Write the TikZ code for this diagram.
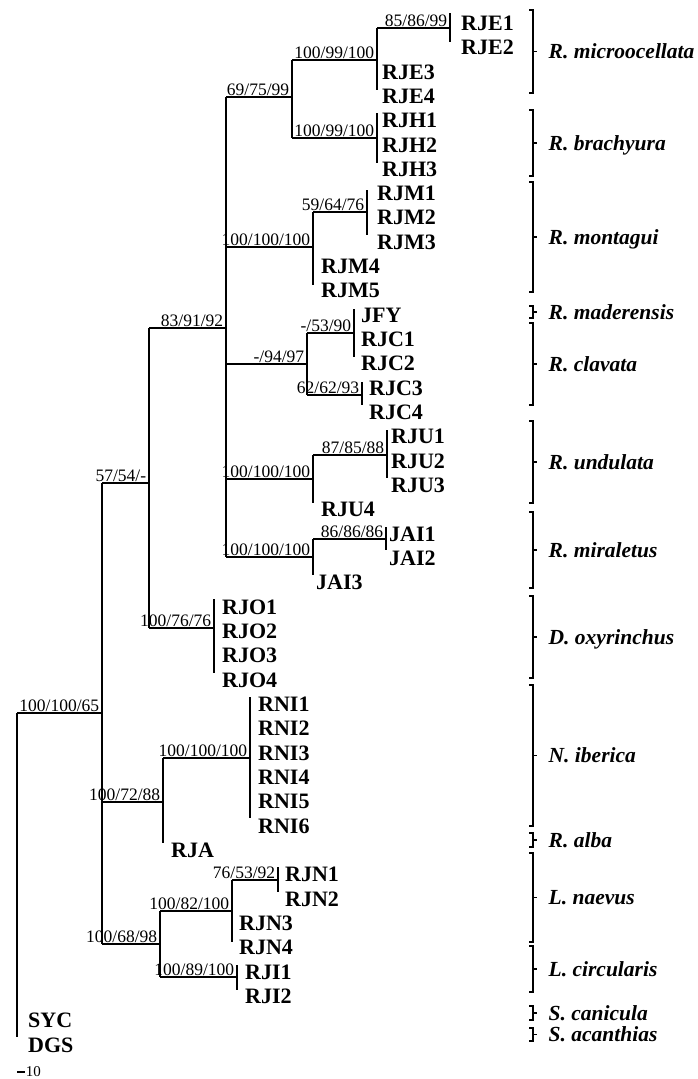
\documentclass[tikz,border=0pt]{standalone}
\usepackage{fontspec}
\setmainfont{Liberation Serif}
\tikzset{
taxon/.style={
  anchor=west,
  inner sep=0pt,
  text height=14.6pt,
  text depth=0pt,
  font=\fontsize{22}{22}\selectfont\bfseries
  },
support/.style={
  anchor=base east,
  inner sep=0pt,
  xshift=-2pt,
  yshift=2pt,
  font=\fontsize{17.5}{17.5}\selectfont
  },
species/.style={
  anchor=west,
  inner sep=0pt,
  text height=14.2pt,
  text depth=0pt,
  xshift=11pt,
  font=\fontsize{21.5}{21.5}\selectfont\bfseries\itshape
  },
branch/.style={line width=1.7pt},
bracket/.style={line width=1.4pt}
}

\begin{document}
\begin{tikzpicture}[x=1pt,y=-1pt]
\useasboundingbox (0,0) rectangle (697,1079);

\coordinate (root) at (17,713);
\coordinate (n65) at (102,713);
\coordinate (n57) at (149,483);
\coordinate (n83) at (226,328);
\coordinate (n69) at (292,97);
\coordinate (nRJE) at (377,60);
\coordinate (nRJE12) at (450,28);
\coordinate (nRJH) at (377,138);
\coordinate (nRJM) at (313,247);
\coordinate (nRJM13) at (367,212);
\coordinate (nCla) at (307,364);
\coordinate (nRJC12) at (354,333);
\coordinate (nRJC34) at (362,395);
\coordinate (nRJU) at (313,479);
\coordinate (nRJU13) at (387,455);
\coordinate (nJAI) at (313,557);
\coordinate (nJAI12) at (386,539);
\coordinate (nRJO) at (214,628);
\coordinate (nNR) at (163,802);
\coordinate (nRNI) at (250,758);
\coordinate (nLeu) at (160,944);
\coordinate (nRJN) at (232,911);
\coordinate (nRJN12) at (278,880);
\coordinate (nRJI) at (237,977);

\draw[branch] (root) -- ([yshift=-324pt]root);
\draw[branch] ([yshift=230pt]n65) -- ([yshift=-231pt]n65);
\draw[branch] ([yshift=155pt]n57) -- ([yshift=-145pt]n57);
\draw[branch] ([yshift=231pt]n83) -- ([yshift=-229pt]n83);
\draw[branch] ([yshift=37pt]n69) -- ([yshift=-41pt]n69);
\draw[branch] ([yshift=32pt]nRJE) -- ([yshift=-30pt]nRJE);
\draw[branch] ([yshift=15pt]nRJE12) -- ([yshift=-14pt]nRJE12);
\draw[branch] ([yshift=25pt]nRJH) -- ([yshift=-25pt]nRJH);
\draw[branch] ([yshift=35pt]nRJM) -- ([yshift=-38pt]nRJM);
\draw[branch] ([yshift=22pt]nRJM13) -- ([yshift=-23pt]nRJM13);
\draw[branch] ([yshift=31pt]nCla) -- ([yshift=-31pt]nCla);
\draw[branch] ([yshift=24pt]nRJC12) -- ([yshift=-24pt]nRJC12);
\draw[branch] ([yshift=13pt]nRJC34) -- ([yshift=-10pt]nRJC34);
\draw[branch] ([yshift=24pt]nRJU) -- ([yshift=-24pt]nRJU);
\draw[branch] ([yshift=25pt]nRJU13) -- ([yshift=-23pt]nRJU13);
\draw[branch] ([yshift=18pt]nJAI) -- ([yshift=-18pt]nJAI);
\draw[branch] ([yshift=12pt]nJAI12) -- ([yshift=-11pt]nJAI12);
\draw[branch] ([yshift=29pt]nRJO) -- ([yshift=-45pt]nRJO);
\draw[branch] ([yshift=44pt]nNR) -- ([yshift=-41pt]nNR);
\draw[branch] ([yshift=61pt]nRNI) -- ([yshift=-60pt]nRNI);
\draw[branch] ([yshift=33pt]nLeu) -- ([yshift=-33pt]nLeu);
\draw[branch] ([yshift=31pt]nRJN) -- ([yshift=-31pt]nRJN);
\draw[branch] ([yshift=13pt]nRJN12) -- ([yshift=-12pt]nRJN12);
\draw[branch] ([yshift=12pt]nRJI) -- ([yshift=-13pt]nRJI);

\draw[branch] (root |- n65) -- (n65) node[support]{100/100/65};
\draw[branch] (n65 |- n57) -- (n57) node[support]{57/54/-};
\draw[branch] (n65 |- nNR) -- (nNR) node[support]{100/72/88};
\draw[branch] (n65 |- nLeu) -- (nLeu) node[support]{100/68/98};
\draw[branch] (n57 |- n83) -- (n83) node[support]{83/91/92};
\draw[branch] (n57 |- nRJO) -- (nRJO) node[support]{100/76/76};
\draw[branch] (n83 |- n69) -- (n69) node[support]{69/75/99};
\draw[branch] (n83 |- nRJM) -- (nRJM) node[support]{100/100/100};
\draw[branch] (n83 |- nCla) -- (nCla) node[support]{-/94/97};
\draw[branch] (n83 |- nRJU) -- (nRJU) node[support]{100/100/100};
\draw[branch] (n83 |- nJAI) -- (nJAI) node[support]{100/100/100};
\draw[branch] (n69 |- nRJE) -- (nRJE) node[support]{100/99/100};
\draw[branch] (n69 |- nRJH) -- (nRJH) node[support]{100/99/100};
\draw[branch] (nRJE |- nRJE12) -- (nRJE12) node[support]{85/86/99};
\draw[branch] (nRJM |- nRJM13) -- (nRJM13) node[support]{59/64/76};
\draw[branch] (nCla |- nRJC12) -- (nRJC12) node[support]{-/53/90};
\draw[branch] (nCla |- nRJC34) -- (nRJC34) node[support]{62/62/93};
\draw[branch] (nRJU |- nRJU13) -- (nRJU13) node[support]{87/85/88};
\draw[branch] (nJAI |- nJAI12) -- (nJAI12) node[support]{86/86/86};
\draw[branch] (nNR |- nRNI) -- (nRNI) node[support]{100/100/100};
\draw[branch] (nLeu |- nRJN) -- (nRJN) node[support]{100/82/100};
\draw[branch] (nLeu |- nRJI) -- (nRJI) node[support]{100/89/100};
\draw[branch] (nRJN |- nRJN12) -- (nRJN12) node[support]{76/53/92};

\node[taxon] (RJE1) at (461,23.0) {RJE1};
\node[taxon] (RJE2) at (461,47.3) {RJE2};
\node[taxon] (RJE3) at (382,71.7) {RJE3};
\node[taxon] (RJE4) at (382,96.0) {RJE4};
\node[taxon] (RJH1) at (382,120.3) {RJH1};
\node[taxon] (RJH2) at (382,144.7) {RJH2};
\node[taxon] (RJH3) at (382,169.0) {RJH3};
\node[taxon] (RJM1) at (377,193.3) {RJM1};
\node[taxon] (RJM2) at (377,217.6) {RJM2};
\node[taxon] (RJM3) at (377,242.0) {RJM3};
\node[taxon] (RJM4) at (321,266.3) {RJM4};
\node[taxon] (RJM5) at (321,290.6) {RJM5};
\node[taxon] (JFY) at (361,315.0) {JFY};
\node[taxon] (RJC1) at (361,339.3) {RJC1};
\node[taxon] (RJC2) at (361,363.6) {RJC2};
\node[taxon] (RJC3) at (369,388.0) {RJC3};
\node[taxon] (RJC4) at (369,412.3) {RJC4};
\node[taxon] (RJU1) at (391,436.6) {RJU1};
\node[taxon] (RJU2) at (391,460.9) {RJU2};
\node[taxon] (RJU3) at (391,485.3) {RJU3};
\node[taxon] (RJU4) at (321,509.6) {RJU4};
\node[taxon] (JAI1) at (389,533.9) {JAI1};
\node[taxon] (JAI2) at (389,558.3) {JAI2};
\node[taxon] (JAI3) at (316,582.6) {JAI3};
\node[taxon] (RJO1) at (222,606.9) {RJO1};
\node[taxon] (RJO2) at (222,631.3) {RJO2};
\node[taxon] (RJO3) at (222,655.6) {RJO3};
\node[taxon] (RJO4) at (222,679.9) {RJO4};
\node[taxon] (RNI1) at (258,704.2) {RNI1};
\node[taxon] (RNI2) at (258,728.6) {RNI2};
\node[taxon] (RNI3) at (258,752.9) {RNI3};
\node[taxon] (RNI4) at (258,777.2) {RNI4};
\node[taxon] (RNI5) at (258,801.6) {RNI5};
\node[taxon] (RNI6) at (258,825.9) {RNI6};
\node[taxon] (RJA) at (171,850.2) {RJA};
\node[taxon] (RJN1) at (285,874.6) {RJN1};
\node[taxon] (RJN2) at (285,898.9) {RJN2};
\node[taxon] (RJN3) at (239,923.2) {RJN3};
\node[taxon] (RJN4) at (239,947.5) {RJN4};
\node[taxon] (RJI1) at (245,971.9) {RJI1};
\node[taxon] (RJI2) at (245,996.2) {RJI2};
\node[taxon] (SYC) at (28,1020.5) {SYC};
\node[taxon] (DGS) at (28,1044.9) {DGS};

\draw[bracket] (529,10) -- (533,10) -- (533,93) -- (529,93) (533,51.5) -- (537,51.5)
  node[species] (microocellata) {R. microocellata};
\draw[bracket] (529,110) -- (533,110) -- (533,176) -- (529,176) (533,143) -- (537,143)
  node[species] (brachyura) {R. brachyura};
\draw[bracket] (529,182) -- (533,182) -- (533,292) -- (529,292) (533,237) -- (537,237)
  node[species] (montagui) {R. montagui};
\draw[bracket] (529,306) -- (533,306) -- (533,318) -- (529,318) (533,312) -- (537,312)
  node[species] (maderensis) {R. maderensis};
\draw[bracket] (529,323) -- (533,323) -- (533,405) -- (529,405) (533,364) -- (537,364)
  node[species] (clavata) {R. clavata};
\draw[bracket] (529,421) -- (533,421) -- (533,503) -- (529,503) (533,462) -- (537,462)
  node[species] (undulata) {R. undulata};
\draw[bracket] (529,512) -- (533,512) -- (533,588) -- (529,588) (533,550) -- (537,550)
  node[species] (miraletus) {R. miraletus};
\draw[bracket] (529,596) -- (533,596) -- (533,678) -- (529,678) (533,637) -- (537,637)
  node[species] (oxyrinchus) {D. oxyrinchus};
\draw[bracket] (529,685) -- (533,685) -- (533,826) -- (529,826) (533,755.5) -- (537,755.5)
  node[species] (iberica) {N. iberica};
\draw[bracket] (529,833) -- (533,833) -- (533,847) -- (529,847) (533,840) -- (537,840)
  node[species] (alba) {R. alba};
\draw[bracket] (529,853) -- (533,853) -- (533,942) -- (529,942) (533,897.5) -- (537,897.5)
  node[species] (naevus) {L. naevus};
\draw[bracket] (529,946) -- (533,946) -- (533,992) -- (529,992) (533,969) -- (537,969)
  node[species] (circularis) {L. circularis};
\draw[bracket] (529,1006) -- (533,1006) -- (533,1020) -- (529,1020) (533,1013) -- (537,1013)
  node[species] (canicula) {S. canicula};
\draw[bracket] (529,1028) -- (533,1028) -- (533,1041) -- (529,1041) (533,1034.5) -- (537,1034.5)
  node[species] (acanthias) {S. acanthias};

\coordinate (scale) at (17,1072);
\draw[branch] (scale) -- ++(8,0)
  node[anchor=west,inner sep=0pt,font=\fontsize{15}{15}\selectfont] (ten) {10};

\end{tikzpicture}
\end{document}
